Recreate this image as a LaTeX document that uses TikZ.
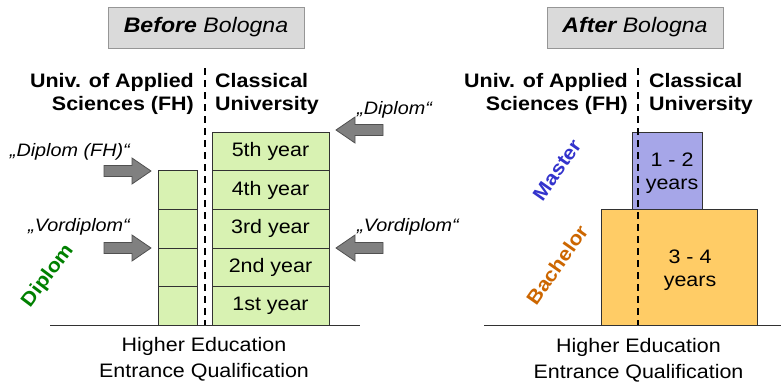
\documentclass[tikz,border=0pt]{standalone}
\usepackage{fontspec}
\setmainfont{Liberation Sans}[FakeStretch=1.1]
\definecolor{yrgreen}{RGB}{216,242,178}
\definecolor{mastfill}{RGB}{166,166,232}
\definecolor{bachfill}{RGB}{255,204,102}
\definecolor{titlefill}{RGB}{218,218,218}
\definecolor{titleline}{RGB}{150,150,150}
\definecolor{arrfill}{RGB}{128,128,128}
\definecolor{arrline}{RGB}{80,80,80}
\definecolor{dipgreen}{RGB}{0,128,0}
\definecolor{mastblue}{RGB}{51,51,204}
\definecolor{bachorange}{RGB}{204,102,0}
\definecolor{lineg}{RGB}{50,50,50}
\tikzset{
  txt/.style={inner sep=0pt, font=\fontsize{19.5}{23.5}\selectfont},
  foot/.style={inner sep=0pt, font=\fontsize{19.5}{26}\selectfont},
  hdr/.style={inner sep=0pt, font=\fontsize{19.5}{23.3}\selectfont\bfseries},
  lbl/.style={inner sep=0pt, font=\fontsize{18}{22}\selectfont\itshape},
  titlebox/.style={draw=titleline, fill=titlefill, line width=1pt, minimum height=41pt, inner sep=0pt, font=\fontsize{21}{25}\selectfont},
  yearbox/.style={draw=lineg, fill=yrgreen, line width=0.8pt, inner sep=0pt, font=\fontsize{19.5}{23.5}\selectfont},
  degbox/.style={draw=lineg, line width=0.8pt, inner sep=0pt},
  divider/.style={dash pattern=on 7pt off 5pt, line width=1.8pt},
  ground/.style={draw=lineg, line width=1.8pt},
  arrowstyle/.style={draw=arrline, fill=arrfill, line width=0.8pt},
  rarrow/.pic={\draw[arrowstyle] (0,-5.5) -- (28,-5.5) -- (28,-13) -- (47,0) -- (28,13) -- (28,5.5) -- (0,5.5) -- cycle;},
  larrow/.pic={\draw[arrowstyle] (47,-5.5) -- (19,-5.5) -- (19,-13) -- (0,0) -- (19,13) -- (19,5.5) -- (47,5.5) -- cycle;},
  slant/.style={inner sep=0pt, font=\fontsize{19.5}{23.5}\selectfont\bfseries}
}
\begin{document}
\begin{tikzpicture}[x=1pt,y=-1pt]
\useasboundingbox (0,0) rectangle (781,383);
% ---------- left panel ----------
\node[titlebox, minimum width=196pt] (tleft) at (206,27.5) {{\bfseries\itshape Before} {\itshape Bologna}};
\node[hdr, align=right, anchor=base east] (fhL) at (194,110.7) {Univ. of Applied\\Sciences (FH)};
\node[hdr, align=left, anchor=base west] (clL) at (215,110.7) {Classical\\University};
\coordinate (dLtop) at (205,68);
\coordinate (dLbot) at (205,325);
\draw[divider] (dLtop) -- (dLbot);
\foreach \n/\yy/\t in {5/151.35/5th year,4/190.05/4th year,3/228.75/3rd year,2/267.45/2nd year,1/306.15/1st year}{
  \node[yearbox, minimum width=117pt, minimum height=38.7pt] (cy\n) at (270.5,\yy) {\t};
}
\foreach \n/\yy in {4/190.05,3/228.75,2/267.45,1/306.15}{
  \node[yearbox, minimum width=39pt, minimum height=38.7pt] (fy\n) at (177.5,\yy) {};
}
\coordinate (gLa) at (50,325.5);
\coordinate (gLb) at (360,325.5);
\draw[ground] (gLa) -- (gLb);
\pic at (104,171) {rarrow};
\pic at (104,248) {rarrow};
\pic at (336,130) {larrow};
\pic at (336,248) {larrow};
\node[lbl, anchor=base east] (lbDFH) at (130,156) {„Diplom (FH)“};
\node[lbl, anchor=base east] (lbVL) at (130,231) {„Vordiplom“};
\node[lbl, anchor=base west] (lbD) at (357,114) {„Diplom“};
\node[lbl, anchor=base west] (lbVR) at (357,231) {„Vordiplom“};
\node[slant, text=dipgreen, rotate=53] (dip) at (48,276) {Diplom};
\node[foot, align=center, anchor=base] (footL) at (204,377.7) {Higher Education\\Entrance Qualification};
% ---------- right panel ----------
\node[titlebox, minimum width=176pt] (tright) at (635,27.5) {{\bfseries\itshape After} {\itshape Bologna}};
\node[hdr, align=right, anchor=base east] (fhR) at (628,110.7) {Univ. of Applied\\Sciences (FH)};
\node[hdr, align=left, anchor=base west] (clR) at (649,110.7) {Classical\\University};
\node[degbox, fill=mastfill, minimum width=70pt, minimum height=77pt] (mast) at (667,170.5) {};
\node[degbox, fill=bachfill, minimum width=156pt, minimum height=116.5pt] (bach) at (679,267.25) {};
\node[txt, align=center] (mastT) at (672,173) {1 - 2\\years};
\node[txt, align=center] (bachT) at (690,270) {3 - 4\\years};
\coordinate (dRtop) at (638,68);
\coordinate (dRbot) at (638,325);
\draw[divider] (dRtop) -- (dRbot);
\coordinate (gRa) at (484,325.5);
\coordinate (gRb) at (781,325.5);
\draw[ground] (gRa) -- (gRb);
\node[slant, text=mastblue, rotate=55] (mastL) at (557,170) {Master};
\node[slant, text=bachorange, rotate=55] (bachL) at (557,265) {Bachelor};
\node[foot, align=center, anchor=base] (footR) at (638.5,378) {Higher Education\\Entrance Qualification};
\end{tikzpicture}
\end{document}
